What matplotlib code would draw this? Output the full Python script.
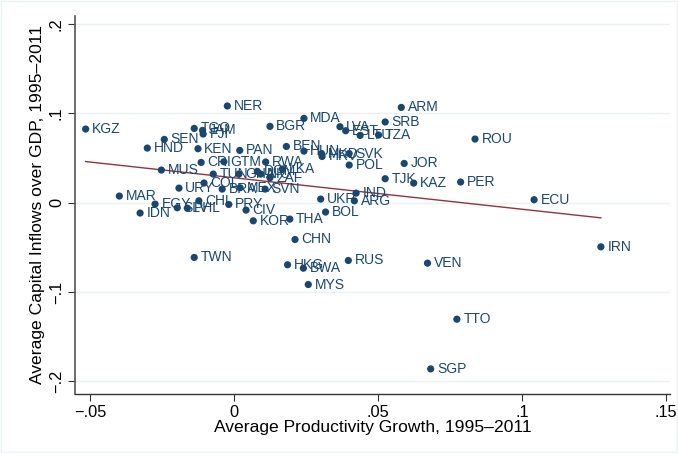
import numpy as np
import matplotlib
matplotlib.use("Agg")
import matplotlib.pyplot as plt

plt.rcParams['font.family'] = ['Liberation Sans', 'DejaVu Sans']

countries = ["KGZ", "NER", "TGO", "JAM", "FJI", "SEN", "HND", "KEN", "PAN", "CRI",
             "GTM", "MUS", "TUN", "URY", "COL", "BRA", "MAR", "EGY", "CHL", "IDN",
             "SLV", "PHL", "PRY", "CIV", "KOR", "BGR", "MDA", "ARM", "LVA", "EST",
             "LTU", "TZA", "SRB", "BEN", "HUN", "MKD", "HRV", "SVK", "POL", "JOR",
             "TJK", "KAZ", "IND", "ARG", "UKR", "BOL", "THA", "SVN", "RWA", "GHA",
             "DOM", "NIC", "ZAF", "LKA", "MEX", "CHN", "TWN", "HKG", "BWA", "RUS",
             "VEN", "MYS", "TTO", "SGP", "ROU", "PER", "ECU", "IRN"]

prod_growth = [-0.0515, -0.0023, -0.0138, -0.0109, -0.0107, -0.0242, -0.0301, -0.0125, 0.0020, -0.0114,
               -0.0035, -0.0252, -0.0072, -0.0191, -0.0104, -0.0041, -0.0398, -0.0274, -0.0122, -0.0326,
               -0.0197, -0.0162, -0.0018, 0.0042, 0.0067, 0.0125, 0.0243, 0.0581, 0.0368, 0.0388,
               0.0438, 0.0502, 0.0525, 0.0182, 0.0243, 0.0304, 0.0306, 0.0400, 0.0400, 0.0591,
               0.0525, 0.0624, 0.0424, 0.0418, 0.0301, 0.0318, 0.0194, 0.0108, 0.0110, 0.0017,
               0.0081, 0.0093, 0.0125, 0.0168, 0.0021, 0.0212, -0.0138, 0.0186, 0.0241, 0.0397,
               0.0672, 0.0258, 0.0774, 0.0683, 0.0837, 0.0787, 0.1042, 0.1274]

cap_inflows = [0.0825, 0.1083, 0.0832, 0.0810, 0.0769, 0.0709, 0.0612, 0.0605, 0.0586, 0.0451,
               0.0459, 0.0366, 0.0321, 0.0164, 0.0221, 0.0153, 0.0075, -0.0015, 0.0022, -0.0115,
               -0.0056, -0.0060, -0.0019, -0.0082, -0.0202, 0.0855, 0.0944, 0.1067, 0.0851, 0.0806,
               0.0754, 0.0758, 0.0904, 0.0630, 0.0578, 0.0551, 0.0518, 0.0551, 0.0422, 0.0440,
               0.0269, 0.0220, 0.0108, 0.0022, 0.0041, -0.0104, -0.0183, 0.0153, 0.0456, 0.0321,
               0.0351, 0.0321, 0.0280, 0.0377, 0.0168, -0.0411, -0.0612, -0.0694, -0.0732, -0.0646,
               -0.0676, -0.0915, -0.1303, -0.1859, 0.0713, 0.0232, 0.0034, -0.0493]

xticks = [-0.05, 0, 0.05, 0.1, 0.15]
xticklabels = ["\u2212.05", "0", ".05", ".1", ".15"]
yticks = [-0.2, -0.1, 0, 0.1, 0.2]
yticklabels = ["\u2212.2", "\u2212.1", "0", ".1", ".2"]

NAVY = "#1a476f"
MAROON = "#90353b"

fig = plt.figure(figsize=(6.78, 4.53), dpi=100)
ax = fig.add_axes([75 / 678, 59 / 453, 595 / 678, 378 / 453])

x = np.array(prod_growth)
y = np.array(cap_inflows)

# linear fit through the scatter
slope, intercept = np.polyfit(x, y, 1)
xf = np.array([x.min(), x.max()])
ax.plot(xf, intercept + slope * xf, color=MAROON, lw=1.0, zorder=2)

ax.scatter(x, y, s=27, color=NAVY, edgecolors='none', zorder=3)
for name, xi, yi in zip(countries, x, y):
    ax.annotate(name, (xi, yi), xytext=(4.6, 0), textcoords='offset points',
                va='center', ha='left', fontsize=10, color=NAVY, zorder=4)

ax.set_xlim(-0.0552, 0.1514)
ax.set_ylim(-0.214, 0.209)
ax.set_xticks(xticks)
ax.set_xticklabels(xticklabels)
ax.set_yticks(yticks)
ax.set_yticklabels(yticklabels, rotation=90, va='center')
ax.tick_params(axis='both', direction='out', length=5, width=0.8, color='#333333',
               labelsize=11.8, pad=3)
ax.grid(axis='y', color='#eaf2f3', lw=1.0, zorder=0)
ax.set_axisbelow(True)

for side in ['top', 'right']:
    ax.spines[side].set_visible(False)
ax.spines['left'].set_color('#555555')
ax.spines['bottom'].set_color('#333333')
ax.spines['left'].set_linewidth(1.2)
ax.spines['bottom'].set_linewidth(1.0)

ax.set_xlabel("Average Productivity Growth, 1995\u20132011", fontsize=12.6, labelpad=0)
ax.set_ylabel("Average Capital Inflows over GDP, 1995\u20132011", fontsize=12.6, labelpad=3)

# light outer frame
fig.patches.append(plt.Rectangle((0.002, 0.002), 0.996, 0.996, transform=fig.transFigure,
                                 fill=False, edgecolor='#eaf2f3', lw=1.0))

fig.savefig("out.png", dpi=100)
